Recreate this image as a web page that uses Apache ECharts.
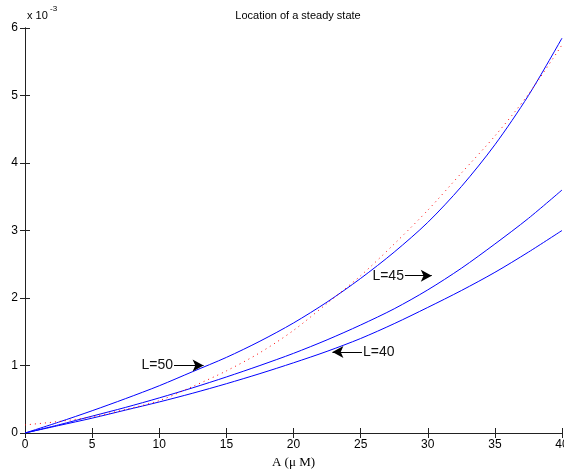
<!DOCTYPE html>
<html>
<head>
<meta charset="utf-8">
<script src="https://cdn.jsdelivr.net/npm/echarts@6/dist/echarts.min.js"></script>
<style>
html, body { margin: 0; padding: 0; background: #fff; }
#chart { width: 564px; height: 471px; }
</style>
</head>
<body>
<div id="chart"></div>
<script>
// x values (A in uM) and curves, y in units of 1e-3
const xs = [0, 2.5, 5, 7.5, 10, 12.5, 15, 17.5, 20, 22.5, 25, 27.5, 30, 32.5, 35, 37.5, 40];
const l50 = [0, 0.16, 0.33, 0.51, 0.70, 0.91, 1.12, 1.36, 1.63, 1.94, 2.29, 2.68, 3.12, 3.65, 4.27, 5.00, 5.85];
const l45 = [0, 0.12, 0.25, 0.38, 0.52, 0.67, 0.83, 1.00, 1.18, 1.38, 1.60, 1.84, 2.12, 2.44, 2.80, 3.18, 3.60];
const l40 = [0, 0.11, 0.22, 0.34, 0.46, 0.59, 0.73, 0.88, 1.04, 1.21, 1.40, 1.62, 1.86, 2.11, 2.38, 2.68, 3.00];
const approx = [0.12, 0.17, 0.24, 0.35, 0.48, 0.69, 0.92, 1.19, 1.52, 1.92, 2.33, 2.80, 3.30, 3.85, 4.40, 5.02, 5.75];

// annotation arrows: [label, from, to]
const notes = [
    ['L=50', [11.1, 1.0], [13.3, 1.0]],
    ['L=45', [28.3, 2.33], [30.3, 2.33]],
    ['L=40', [25.1, 1.2], [22.9, 1.2]]
];

const pairs = (ys) => xs.map((x, i) => [x, ys[i]]);

const chart = echarts.init(document.getElementById('chart'));

const font = 'Arial, "Liberation Sans", sans-serif';
const axisLine = { lineStyle: { color: '#222', width: 1 } };
const tick = { inside: true, length: 5, lineStyle: { color: '#222' } };

const blueLine = (name, ys) => ({
    name: name,
    type: 'line',
    data: pairs(ys),
    smooth: 0.3,
    showSymbol: false,
    lineStyle: { color: '#0000ff', width: 1 },
    silent: true
});

const arrows = {
    type: 'line',
    data: [],
    markLine: {
        silent: true,
        symbol: ['none', 'arrow'],
        symbolSize: [9, 11],
        lineStyle: { color: '#000', width: 1, type: 'solid' },
        label: {
            show: true,
            position: 'start',
            distance: 1,
            color: '#111',
            fontSize: 14,
            fontFamily: font,
            formatter: (p) => p.data.name
        },
        data: notes.map((n) => [
            { name: n[0], coord: n[1] },
            { coord: n[2] }
        ])
    }
};

chart.setOption({
    animation: false,
    title: {
        text: 'Location of a steady state',
        left: 293,
        textAlign: 'center',
        top: 5,
        textStyle: { fontSize: 11, fontWeight: 'normal', color: '#000', fontFamily: font }
    },
    grid: { left: 25, right: 2, top: 28, bottom: 38, outerBoundsMode: 'none', containLabel: false },
    xAxis: [
        {
            type: 'value',
            min: 0, max: 40, interval: 5,
            axisLine: axisLine,
            axisTick: tick,
            splitLine: { show: false },
            axisLabel: { color: '#000', fontSize: 12, fontFamily: font, margin: 6 },
            name: 'A (\u03bc M)',
            nameLocation: 'middle',
            nameGap: 23,
            nameTextStyle: { color: '#000', fontSize: 13, fontFamily: '"Liberation Serif", "DejaVu Serif", serif' }
        },
        {
            type: 'value',
            position: 'top',
            min: 0, max: 40, interval: 5,
            axisLine: axisLine,
            axisTick: tick,
            splitLine: { show: false },
            axisLabel: { show: false }
        }
    ],
    yAxis: [
        {
            type: 'value',
            min: 0, max: 6, interval: 1,
            axisLine: { show: true, lineStyle: { color: '#000', width: 1 } },
            axisTick: tick,
            splitLine: { show: false },
            axisLabel: { color: '#000', fontSize: 12, fontFamily: font, margin: 7 }
        },
        {
            type: 'value',
            position: 'right',
            min: 0, max: 6, interval: 1,
            axisLine: { show: true, lineStyle: { color: '#222', width: 1 } },
            axisTick: tick,
            splitLine: { show: false },
            axisLabel: { show: false }
        }
    ],
    graphic: [
        { type: 'text', left: 27, top: 10, style: { text: 'x 10', fontSize: 11, fontFamily: font, fill: '#000' } },
        { type: 'text', left: 50, top: 5, style: { text: '-3', fontSize: 8, fontFamily: font, fill: '#000' } }
    ],
    series: [
        blueLine('L=50', l50),
        blueLine('L=45', l45),
        blueLine('L=40', l40),
        {
            name: 'approx',
            type: 'line',
            data: pairs(approx),
            smooth: 0.3,
            showSymbol: false,
            lineStyle: { color: '#ff0000', width: 1, type: [1, 4] },
            silent: true
        },
        arrows
    ]
});
</script>
</body>
</html>
